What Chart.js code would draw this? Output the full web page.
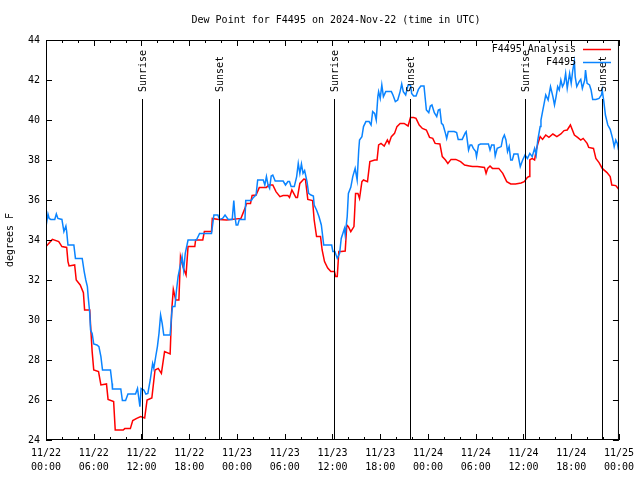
<!DOCTYPE html>
<html>
<head>
<meta charset="utf-8">
<script src="https://cdn.jsdelivr.net/npm/chart.js@4.4.1/dist/chart.umd.min.js"></script>
<style>
  html, body { margin: 0; padding: 0; background: #fff; }
  #wrap { width: 640px; height: 480px; }
</style>
</head>
<body>
<div id="wrap"><canvas id="dewChart" width="640" height="480"></canvas></div>
<script>
// hours since 11/22 00:00 UTC
const analysisHours = [0, 0.8, 1.6, 2.0, 2.6, 2.76, 2.9, 3.6, 3.8, 4.3, 4.7, 4.85, 5.5, 5.6, 5.8, 6.0, 6.6, 6.9, 7.6, 7.8,
  8.5, 8.7, 9.7, 9.9, 10.6, 10.9, 11.4, 11.9, 12.4, 12.7, 13.3, 13.7, 14.1, 14.5, 14.9, 15.6, 15.8, 16.0, 16.3, 16.7,
  16.9, 17.2, 17.6, 17.85, 18.7, 18.8, 19.7, 19.9, 20.8, 20.9, 21.7, 22.7, 24.5, 25.0, 25.2, 25.7, 25.9, 26.4, 26.8, 27.7,
  28.0, 28.5, 28.9, 29.4, 29.8, 30.4, 30.6, 30.9, 31.4, 31.6, 31.9, 32.4, 32.6, 32.9, 33.5, 33.7, 34.0, 34.5, 34.7, 35.0,
  35.4, 35.8, 36.25, 36.4, 36.6, 36.8, 37.1, 37.6, 37.8, 38.0, 38.3, 38.7, 38.9, 39.2, 39.4, 39.7, 39.9, 40.4, 40.7, 41.3,
  41.6, 41.8, 42.1, 42.5, 42.9, 43.1, 43.4, 43.8, 44.1, 44.5, 45.0, 45.5, 45.8, 46.2, 46.5, 46.9, 47.3, 47.8, 48.2, 48.6,
  48.9, 49.5, 49.8, 50.2, 50.5, 50.9, 51.5, 52.1, 52.6, 53.2, 53.6, 54.2, 55.1, 55.3, 55.5, 55.8, 56.1, 56.9, 57.4, 57.9,
  58.4, 59.0, 59.7, 60.1, 60.5, 60.7, 60.8, 61.1, 61.4, 61.6, 61.8, 62.1, 62.4, 62.8, 63.2, 63.7, 64.2, 64.7, 65.1, 65.5,
  65.9, 66.4, 66.8, 67.2, 67.5, 68.0, 68.2, 68.8, 69.1, 69.5, 69.9, 70.5, 70.9, 71.1, 71.6, 72.0];
const analysisDew = [33.67, 34.03, 33.92, 33.67, 33.63, 32.92, 32.7, 32.75, 32.0, 31.75, 31.37, 30.5, 30.5, 29.75, 28.42, 27.5, 27.42, 26.75, 26.8, 26.03,
  25.92, 24.5, 24.5, 24.57, 24.57, 24.97, 25.08, 25.17, 25.1, 26.0, 26.1, 27.5, 27.58, 27.33, 28.42, 28.3, 30.5, 31.53, 31.0, 31.0,
  33.17, 32.67, 32.25, 33.67, 33.67, 34.0, 34.0, 34.42, 34.42, 35.08, 35.03, 35.0, 35.08, 35.58, 35.83, 35.83, 36.23, 36.25, 36.62, 36.63,
  36.75, 36.75, 36.42, 36.17, 36.22, 36.22, 36.13, 36.5, 36.13, 36.13, 36.83, 37.05, 37.03, 36.03, 35.97, 35.0, 34.17, 34.17, 33.5, 32.92,
  32.6, 32.42, 32.42, 32.17, 32.17, 33.42, 33.42, 33.45, 34.75, 34.67, 34.42, 34.67, 36.33, 36.33, 36.08, 36.92, 37.0, 36.92, 37.92, 38.0,
  38.0, 38.75, 38.83, 38.7, 39.0, 38.83, 39.17, 39.33, 39.67, 39.83, 39.83, 39.7, 40.12, 40.12, 40.08, 39.75, 39.58, 39.5, 39.13, 39.08,
  38.83, 38.8, 38.17, 38.0, 37.83, 38.03, 38.03, 37.92, 37.75, 37.7, 37.67, 37.67, 37.63, 37.33, 37.58, 37.7, 37.58, 37.58, 37.33, 36.92,
  36.8, 36.8, 36.85, 36.92, 37.13, 37.17, 38.0, 38.08, 38.0, 38.5, 38.8, 39.17, 39.03, 39.25, 39.13, 39.3, 39.17, 39.3, 39.47, 39.5,
  39.75, 39.25, 39.13, 39.0, 39.08, 38.83, 38.63, 38.58, 38.08, 37.87, 37.58, 37.37, 37.17, 36.75, 36.72, 36.53];

const stationHours = [0, 0.25, 0.4, 0.6, 1.1, 1.3, 1.5, 2.0, 2.25, 2.5, 2.6, 2.76, 3.5, 3.7, 4.55, 4.8, 5.0, 5.2, 5.3, 5.5,
  5.6, 5.8, 6.0, 6.4, 6.65, 6.9, 7.1, 8.1, 8.3, 8.35, 9.4, 9.6, 10.0, 10.3, 11.25, 11.5, 11.8, 11.95, 12.3, 12.55,
  12.8, 13.1, 13.4, 13.55, 13.8, 14.0, 14.2, 14.4, 14.6, 14.8, 15.6, 15.8, 15.9, 16.2, 16.4, 16.6, 16.8, 17.1, 17.3, 17.5,
  17.85, 18.9, 19.3, 20.8, 21.1, 21.6, 21.8, 22.2, 22.5, 22.9, 23.4, 23.6, 23.75, 23.9, 24.1, 24.3, 25.0, 25.1, 25.8, 26.0,
  26.4, 26.6, 27.3, 27.5, 27.7, 27.9, 28.1, 28.3, 28.5, 28.8, 29.8, 30.1, 30.4, 30.6, 30.8, 31.2, 31.5, 31.7, 31.9, 32.1,
  32.3, 32.5, 32.8, 33.0, 33.3, 33.6, 33.7, 34.0, 34.3, 34.6, 34.9, 35.9, 36.05, 36.3, 36.6, 36.9, 37.1, 37.3, 37.5, 37.6,
  37.85, 38.0, 38.3, 38.55, 38.85, 39.1, 39.3, 39.4, 39.7, 39.9, 40.2, 40.6, 40.85, 41.05, 41.3, 41.5, 41.7, 41.8, 42.0, 42.2,
  42.4, 42.7, 43.4, 43.6, 43.9, 44.2, 44.5, 44.7, 44.9, 45.2, 45.5, 45.8, 45.95, 46.2, 46.5, 46.8, 47.1, 47.5, 47.8, 48.1,
  48.3, 48.5, 48.8, 49.1, 49.3, 49.5, 49.7, 49.9, 50.2, 50.35, 50.55, 51.3, 51.6, 51.8, 52.3, 52.7, 52.8, 53.1, 53.3, 53.5,
  53.7, 54.0, 54.1, 54.35, 54.6, 55.6, 55.8, 56.0, 56.3, 56.45, 56.7, 57.2, 57.4, 57.6, 57.8, 58.0, 58.2, 58.4, 58.6, 58.8,
  59.3, 59.6, 59.9, 60.2, 60.5, 60.8, 61.1, 61.4, 61.6, 61.8, 62.1, 62.2, 62.4, 62.6, 62.8, 63.1, 63.4, 63.7, 63.9, 64.1,
  64.3, 64.5, 64.7, 64.9, 65.1, 65.3, 65.5, 65.8, 66.0, 66.2, 66.4, 66.5, 66.7, 67.0, 67.2, 67.4, 67.7, 67.8, 68.0, 68.3,
  68.5, 68.7, 69.1, 69.5, 69.8, 69.9, 70.1, 70.3, 70.6, 70.9, 71.2, 71.4, 71.6, 71.8, 71.95];
const stationDew = [34.67, 35.3, 35.08, 35.03, 35.03, 35.3, 35.08, 35.03, 34.42, 34.7, 34.42, 33.75, 33.75, 33.08, 33.08, 32.42, 32.0, 31.67, 31.17, 30.33,
  29.5, 29.33, 28.8, 28.75, 28.67, 28.17, 27.5, 27.5, 26.83, 26.55, 26.55, 25.97, 25.97, 26.3, 26.3, 26.58, 25.67, 26.58, 26.5, 26.3,
  26.33, 27.0, 27.83, 27.58, 28.2, 28.67, 29.33, 30.25, 29.83, 29.25, 29.25, 30.33, 30.67, 30.67, 31.5, 32.17, 32.58, 33.17, 32.5, 33.33,
  34.0, 34.0, 34.33, 34.33, 35.25, 35.25, 35.03, 35.08, 35.25, 35.03, 35.03, 35.97, 35.17, 34.75, 34.75, 35.03, 35.03, 35.97, 35.97, 36.1,
  36.25, 37.0, 37.0, 36.75, 37.17, 36.75, 36.58, 37.2, 37.25, 36.95, 36.95, 36.75, 36.92, 36.92, 36.67, 36.67, 37.17, 37.83, 37.33, 37.8,
  37.33, 37.47, 36.92, 36.33, 36.25, 36.2, 35.75, 35.5, 35.17, 34.75, 33.75, 33.75, 33.42, 33.42, 33.08, 33.33, 34.08, 34.33, 34.58, 34.25,
  35.17, 36.33, 36.63, 37.17, 37.58, 37.0, 38.5, 39.0, 39.17, 39.67, 39.92, 39.92, 39.75, 40.42, 40.33, 40.0, 41.17, 41.42, 41.08, 41.75,
  41.17, 41.42, 41.42, 41.25, 40.92, 41.0, 41.42, 41.8, 41.42, 41.25, 41.75, 41.75, 41.33, 41.2, 41.2, 41.53, 41.7, 41.7, 40.5, 40.37,
  40.7, 40.75, 40.37, 40.17, 40.5, 40.53, 39.83, 39.75, 39.33, 39.08, 39.42, 39.42, 39.37, 39.03, 39.03, 39.37, 39.42, 38.5, 38.75, 38.75,
  38.58, 38.42, 38.17, 38.75, 38.8, 38.8, 38.5, 38.75, 38.75, 38.2, 38.58, 38.67, 39.08, 39.25, 39.0, 38.42, 38.67, 38.0, 38.0, 38.3,
  38.3, 37.67, 38.0, 38.25, 38.08, 38.33, 38.17, 38.58, 38.25, 39.0, 39.67, 40.0, 40.42, 40.83, 41.25, 41.0, 41.67, 41.17, 40.75, 41.17,
  41.67, 41.5, 42.0, 41.67, 41.83, 42.33, 41.58, 42.33, 41.83, 42.5, 42.92, 42.17, 41.67, 41.92, 42.03, 41.58, 42.0, 42.5, 41.83, 41.75,
  41.5, 41.03, 41.03, 41.08, 41.25, 41.5, 40.92, 40.25, 39.75, 39.53, 39.08, 38.67, 39.0, 38.83, 38.5];

const sunEventHours = [12.08, 21.74, 36.17, 45.79, 60.21, 69.83];
const sunEventNames = ['Sunrise', 'Sunset', 'Sunrise', 'Sunset', 'Sunrise', 'Sunset'];

const xTickDates = ['11/22', '11/22', '11/22', '11/22', '11/23', '11/23', '11/23', '11/23', '11/24', '11/24', '11/24', '11/24', '11/25'];
const xTickTimes = ['00:00', '06:00', '12:00', '18:00', '00:00', '06:00', '12:00', '18:00', '00:00', '06:00', '12:00', '18:00', '00:00'];

const chartTitle = 'Dew Point for F4495 on 2024-Nov-22 (time in UTC)';
const yAxisTitle = 'degrees F';

const MONO = '"DejaVu Sans Mono", "Liberation Mono", monospace';

function toPoints(xs, ys) {
    return xs.map((x, i) => ({ x: x, y: ys[i] }));
}

// gnuplot-like frame, inward ticks, sun lines, legend and titles
const gnuplotDecor = {
    id: 'gnuplotDecor',
    afterDatasetsDraw(chart) {
        const ctx = chart.ctx;
        const area = chart.chartArea;
        const xs = chart.scales.x;

        ctx.save();
        ctx.strokeStyle = '#000';
        ctx.lineWidth = 1;
        ctx.fillStyle = '#000';
        ctx.font = '10px ' + MONO;

        // sunrise / sunset markers
        sunEventHours.forEach(function(h, i) {
            const px = Math.round(xs.getPixelForValue(h)) + 0.5;
            ctx.beginPath();
            ctx.moveTo(px, 99);
            ctx.lineTo(px, area.bottom);
            ctx.stroke();

            ctx.save();
            ctx.translate(px + 1, 92);
            ctx.rotate(-Math.PI / 2);
            ctx.textAlign = 'left';
            ctx.textBaseline = 'middle';
            ctx.fillText(sunEventNames[i], 0, 0);
            ctx.restore();
        });
        ctx.restore();
    },
    afterDraw(chart) {
        const ctx = chart.ctx;
        const area = chart.chartArea;
        const xs = chart.scales.x;
        const ys = chart.scales.y;

        ctx.save();
        ctx.strokeStyle = '#000';
        ctx.lineWidth = 1;

        // frame
        ctx.strokeRect(area.left + 0.5, area.top + 0.5, area.right - area.left - 1, area.bottom - area.top - 1);

        ctx.beginPath();
        // y ticks on both sides
        ys.ticks.forEach(function(t) {
            const py = Math.round(ys.getPixelForValue(t.value)) + 0.5;
            ctx.moveTo(area.left, py); ctx.lineTo(area.left + 6, py);
            ctx.moveTo(area.right, py); ctx.lineTo(area.right - 6, py);
        });
        // x ticks, major every 6 h, minor every 2 h
        for (let h = 0; h <= 72; h += 2) {
            const px = Math.round(xs.getPixelForValue(h)) + 0.5;
            const len = (h % 6 === 0) ? 6 : 3;
            ctx.moveTo(px, area.bottom); ctx.lineTo(px, area.bottom - len);
            ctx.moveTo(px, area.top); ctx.lineTo(px, area.top + len);
        }
        ctx.stroke();

        // titles
        ctx.fillStyle = '#000';
        ctx.font = '10px ' + MONO;
        ctx.textAlign = 'center';
        ctx.textBaseline = 'middle';
        ctx.fillText(chartTitle, 336, 20);

        ctx.save();
        ctx.translate(10, (area.top + area.bottom) / 2);
        ctx.rotate(-Math.PI / 2);
        ctx.fillText(yAxisTitle, 0, 0);
        ctx.restore();

        // legend: text then line sample
        chart.data.datasets.forEach(function(ds, i) {
            const ly = 49 + i * 13;
            ctx.textAlign = 'right';
            ctx.fillText(ds.label, 576, ly);
            ctx.strokeStyle = ds.borderColor;
            ctx.lineWidth = 1.5;
            ctx.beginPath();
            ctx.moveTo(583, ly + 0.5);
            ctx.lineTo(611, ly + 0.5);
            ctx.stroke();
        });
        ctx.restore();
    }
};

document.addEventListener('DOMContentLoaded', function() {
    const canvas = document.getElementById('dewChart');

    new Chart(canvas, {
        type: 'line',
        data: {
            datasets: [
                {
                    label: 'F4495 Analysis',
                    data: toPoints(analysisHours, analysisDew),
                    borderColor: '#ff0000',
                    borderWidth: 1.5,
                    pointRadius: 0,
                    tension: 0,
                    order: 2
                },
                {
                    label: 'F4495',
                    data: toPoints(stationHours, stationDew),
                    borderColor: '#0a84ff',
                    borderWidth: 1.5,
                    pointRadius: 0,
                    tension: 0,
                    order: 1
                }
            ]
        },
        options: {
            responsive: false,
            animation: false,
            devicePixelRatio: 1,
            layout: { padding: { top: 40, right: 19, left: 0, bottom: 0 } },
            scales: {
                x: {
                    type: 'linear',
                    min: 0,
                    max: 72,
                    afterFit: function(s) { s.height = 40; },
                    grid: { display: false, drawTicks: false },
                    border: { display: false },
                    ticks: {
                        stepSize: 6,
                        autoSkip: false,
                        maxRotation: 0,
                        padding: 6,
                        color: '#000',
                        font: { family: MONO, size: 10, lineHeight: 1.4 },
                        callback: function(value, index) {
                            return [xTickDates[index], xTickTimes[index]];
                        }
                    }
                },
                y: {
                    min: 24,
                    max: 44,
                    afterFit: function(s) { s.width = 46; },
                    grid: { display: false, drawTicks: false },
                    border: { display: false },
                    ticks: {
                        stepSize: 2,
                        padding: 6,
                        color: '#000',
                        font: { family: MONO, size: 10 }
                    }
                }
            },
            plugins: {
                legend: { display: false },
                title: { display: false },
                tooltip: { enabled: false }
            }
        },
        plugins: [gnuplotDecor]
    });
});
</script>
</body>
</html>
